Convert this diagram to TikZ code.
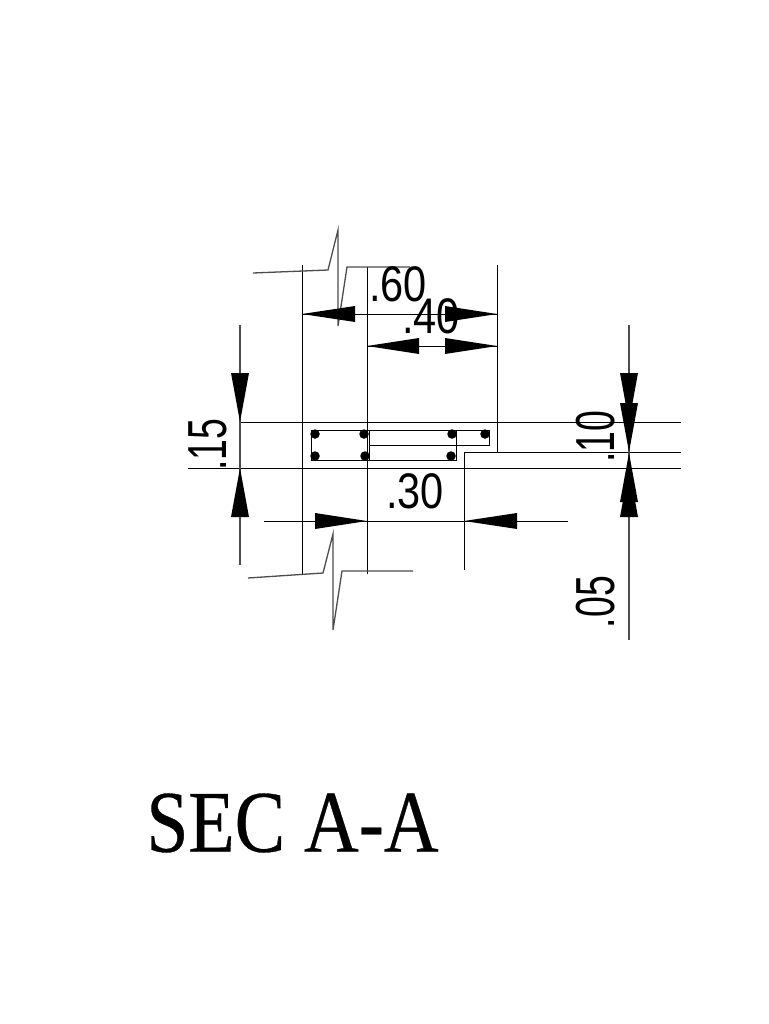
\documentclass[tikz,border=0pt]{standalone}
\usepackage{fontspec}
\setmainfont{Liberation Sans}
\newfontfamily\titlefont[FakeBold=0.4]{Liberation Serif}
\usetikzlibrary{positioning}
\tikzset{
  dimtext/.style={font=\fontsize{50}{50}\selectfont, inner sep=0pt, transform shape, xscale=0.83},
  sidetext/.style={font=\fontsize{55}{55}\selectfont, inner sep=0pt, transform shape, rotate=90, xscale=0.68},
  dimline/.style={line width=1pt},
  breakline/.style={line width=1.3pt, black!70},
  rebar/.style={circle, fill, inner sep=0pt, minimum size=9.5pt}
}
% arrowheads: tip x, tip y, base coordinate
\newcommand{\harrowhead}[3]{\fill (#1,#2) -- (#3,#2+8) -- (#3,#2-8) -- cycle;}
\newcommand{\varrowhead}[3]{\fill (#1,#2) -- (#1+9,#3) -- (#1-9,#3) -- cycle;}
\begin{document}
\begin{tikzpicture}[x=1pt,y=1pt]
\useasboundingbox (0,0) rectangle (768,-1024);
\fill[white] (0,0) rectangle (768,-1024);

% grid lines
\draw[dimline] (302,-265) -- (302,-575);
\draw[dimline] (367,-267) -- (367,-574);
\draw[dimline] (497,-265) -- (497,-452);
\draw[dimline] (681,-452.5) -- (464,-452.5) -- (464,-570);
\draw[dimline] (240,-422) -- (681,-422);
\draw[dimline] (188,-468) -- (681,-468);

% section
\draw[dimline] (311,-430) rectangle (369,-460);
\draw[dimline] (369,-430) -- (489,-430) -- (489,-445) -- (369,-445);
\draw[dimline] (369,-460) -- (456,-460) -- (456,-430);
\node[rebar] (a) at (315,-434) {};
\node[rebar] (b) at (364,-434) {};
\node[rebar] (c) at (452,-434) {};
\node[rebar] (d) at (485,-434) {};
\node[rebar] (e) at (315,-456) {};
\node[rebar] (f) at (365,-456) {};
\node[rebar] (g) at (451,-456) {};

% break lines
\draw[breakline] (253,-273) -- (328,-270) -- (338,-230) -- (338,-326) -- (347,-267) -- (410,-267);
\draw[breakline] (248,-578) -- (323,-573) -- (333,-534) -- (333,-630) -- (342,-571) -- (413,-571);

% dimension lines
\draw[dimline] (302,-314) -- (497,-314);
\draw[dimline] (367,-346) -- (497,-346);
\draw[dimline] (264,-521) -- (568,-521);
\draw[breakline] (240,-325) -- (240,-565);
\draw[breakline] (629,-325) -- (629,-640);

\harrowhead{302}{-314}{355}
\harrowhead{497}{-314}{445}
\harrowhead{367}{-346}{419}
\harrowhead{497}{-346}{445}
\harrowhead{367}{-521}{315}
\harrowhead{464}{-521}{517}
\varrowhead{240}{-422}{-373}
\varrowhead{240}{-468}{-517}
\varrowhead{629}{-422}{-373}
\varrowhead{629}{-452}{-403}
\varrowhead{629}{-453}{-502}
\varrowhead{629}{-468}{-517}

% labels
\node[dimtext] (w60) at (398,-284) {.60};
\node[dimtext] (w40) at (431,-316) {.40};
\node[dimtext] (w30) at (415,-491) {.30};
\node[sidetext] (h15) at (207.5,-444.5) {.15};
\node[sidetext] (h10) at (595.5,-437) {.10};
\node[sidetext] (h05) at (595.5,-602) {.05};
\node[font=\titlefont\fontsize{88}{88}\selectfont, inner sep=0pt, transform shape, xscale=0.86] (title) at (292.5,-823) {SEC A-A};
\end{tikzpicture}
\end{document}
